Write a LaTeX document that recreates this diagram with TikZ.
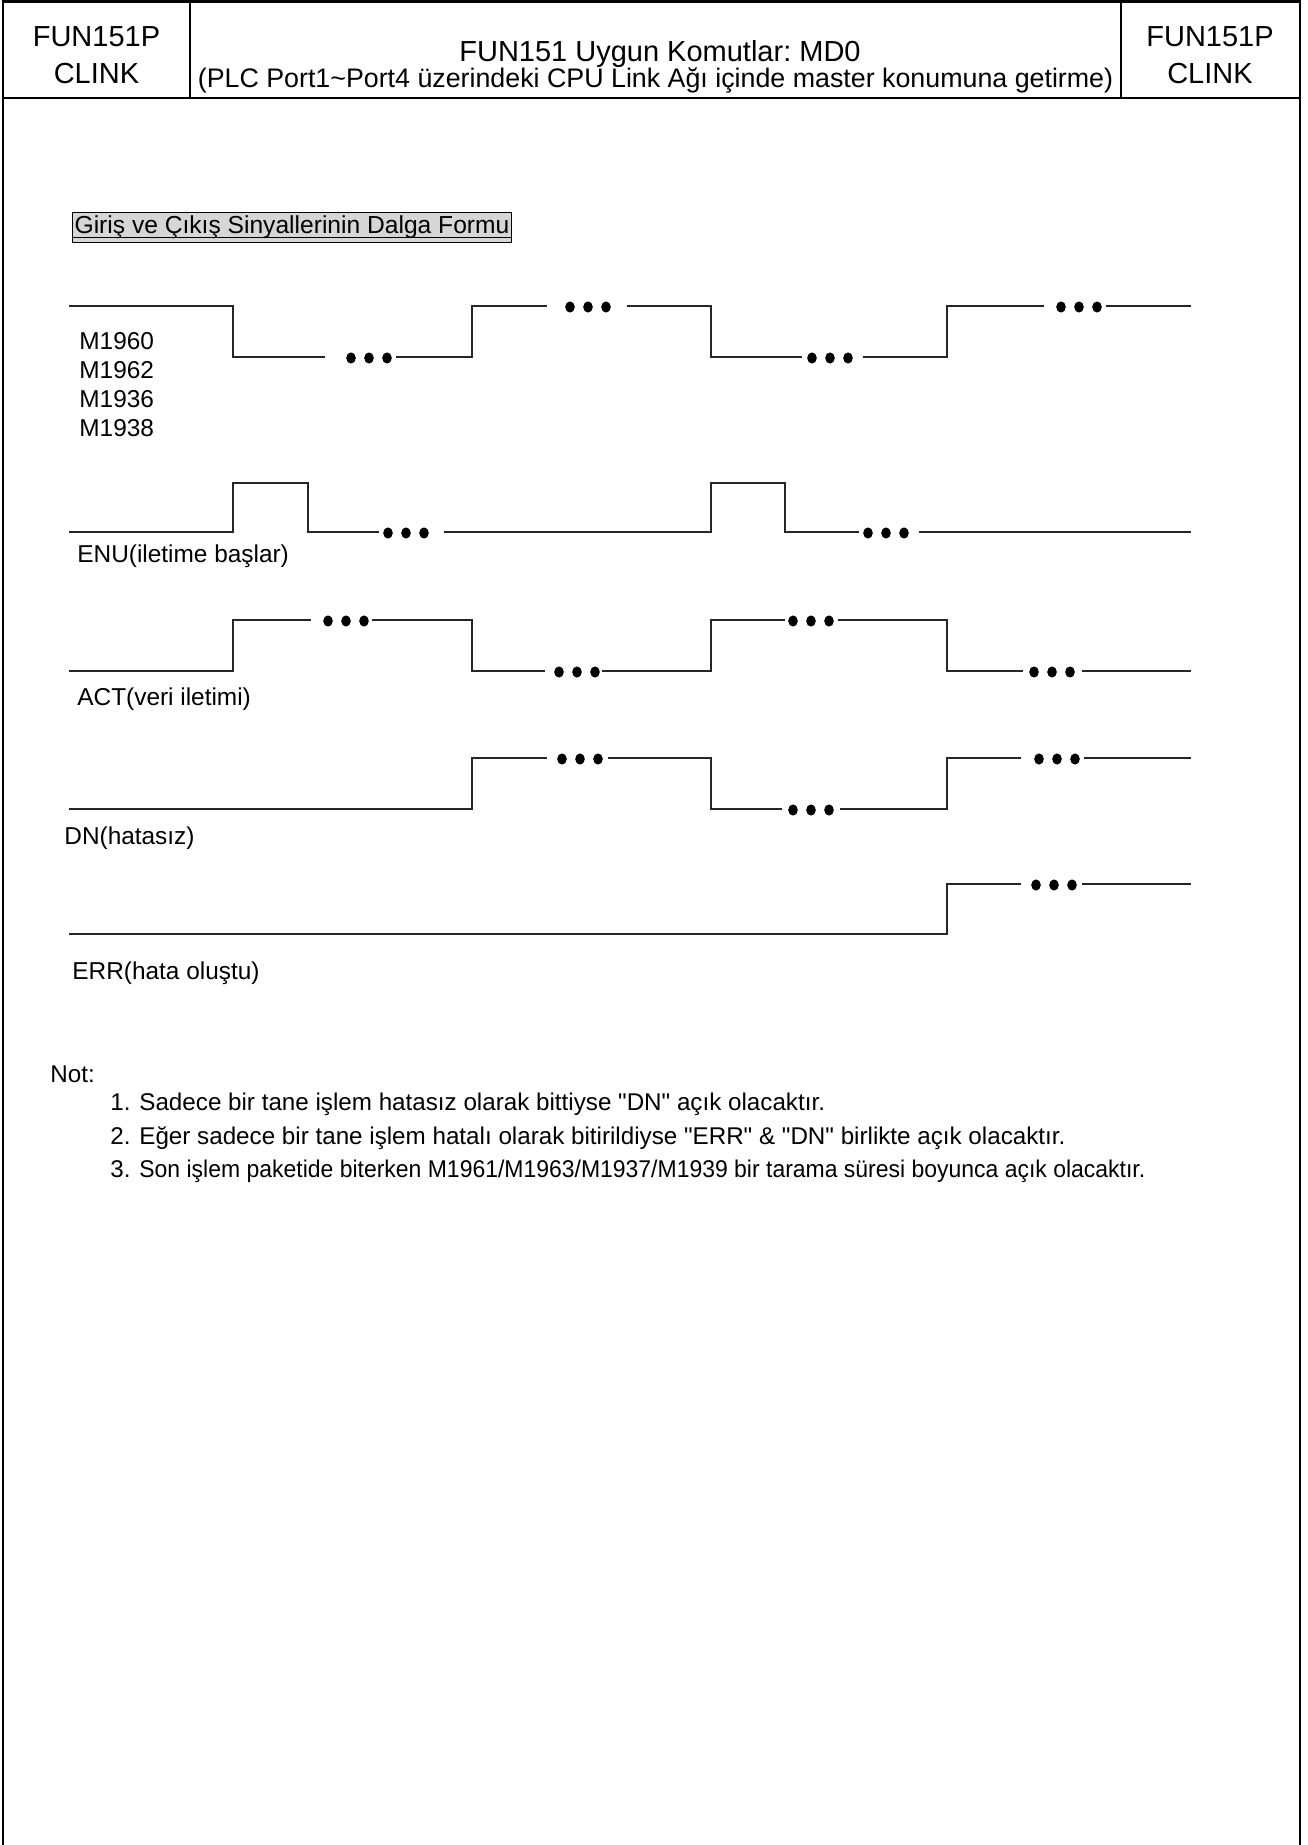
\documentclass[tikz,border=0pt]{standalone}
\usepackage{fontspec}
\setmainfont{Liberation Sans}
\usetikzlibrary{positioning}
\frenchspacing

\definecolor{boxgray}{gray}{0.84}

% three dots that mark a break in a waveform
\newcommand{\wavedots}[2]{%
  \foreach \d in {0,1,2}
    \fill (#1-18+18*\d,#2+1) ellipse [x radius=2.4pt, y radius=2.8pt];
}

\begin{document}
\begin{tikzpicture}[
  x=0.5pt, y=-0.5pt,
  frame/.style={line width=1.4pt},
  wave/.style={line width=0.7pt, black!85},
  head/.style={align=center, inner sep=0pt},
  lbl/.style={font=\fontsize{12.2}{14.5}\selectfont, inner sep=0pt, anchor=west, align=left},
  note/.style={font=\fontsize{12.1}{13.5}\selectfont, inner sep=0pt, anchor=base west}
]
  \useasboundingbox (0,0) rectangle (1307,1845);

  % page frame and header
  \draw[frame] (3,1845) -- (3,1.5) -- (1300,1.5) -- (1300,1845);
  \draw[frame] (3,98) -- (1300,98);
  \draw[frame] (190,1.5) -- (190,98);
  \draw[frame] (1121,1.5) -- (1121,98);

  \node[head, font=\fontsize{14.5}{18.8}\selectfont] (codeL) at (96.5,55) {FUN151P\\CLINK};
  \node[head, font=\fontsize{14.5}{18.8}\selectfont] (codeR) at (1210,55) {FUN151P\\CLINK};
  \node[head, font=\fontsize{14.5}{16}\selectfont] (titleA) at (660,54) {FUN151 Uygun Komutlar: MD0};
  \node[head, font=\fontsize{13.4}{15}\selectfont] (titleB) at (655.5,80)
    {(PLC Port1\textasciitilde Port4 üzerindeki CPU Link Ağı içinde master konumuna getirme)};

  % section title
  \node[draw, fill=boxgray, line width=0.6pt, inner xsep=1pt, inner ysep=0pt,
        minimum height=14.7pt, font=\fontsize{12.3}{14}\selectfont]
    (wtitle) at (292,227.5) {Giriş ve Çıkış Sinyallerinin Dalga Formu};
  \draw[line width=0.6pt] ([yshift=-2pt]wtitle.base west) -- ([yshift=-2pt]wtitle.base east);

  % signal names
  \node[lbl] (mlbl) at (79,384.5) {M1960\\M1962\\M1936\\M1938};
  \node[lbl] (enu) at (77,556) {ENU(iletime başlar)};
  \node[lbl] (act) at (77,699) {ACT(veri iletimi)};
  \node[lbl] (dn)  at (64,838) {DN(hatasız)};
  \node[lbl] (err) at (72,973) {ERR(hata oluştu)};

  % M1960/M1962/M1936/M1938
  \draw[wave] (69,306) -- (233,306) -- (233,357) -- (325,357)
              (396,357) -- (472,357) -- (472,306) -- (547,306)
              (627,306) -- (711,306) -- (711,357) -- (802,357)
              (863,357) -- (947,357) -- (947,306) -- (1044,306)
              (1106,306) -- (1191,306);
  \wavedots{369}{357} \wavedots{588}{306} \wavedots{830}{357} \wavedots{1079}{306}

  % ENU
  \draw[wave] (69,532) -- (233,532) -- (233,483) -- (308,483) -- (308,532) -- (379,532)
              (444,532) -- (711,532) -- (711,483) -- (785,483) -- (785,532) -- (859,532)
              (919,532) -- (1191,532);
  \wavedots{406}{532} \wavedots{886}{532}

  % ACT
  \draw[wave] (69,671) -- (233,671) -- (233,620) -- (311,620)
              (372,620) -- (472,620) -- (472,671) -- (545,671)
              (602,671) -- (711,671) -- (711,620) -- (785,620)
              (838,620) -- (947,620) -- (947,671) -- (1023,671)
              (1082,671) -- (1191,671);
  \wavedots{346}{620} \wavedots{577}{671} \wavedots{811}{620} \wavedots{1052}{671}

  % DN
  \draw[wave] (69,809) -- (472,809) -- (472,758) -- (547,758)
              (608,758) -- (711,758) -- (711,809) -- (782,809)
              (840,809) -- (947,809) -- (947,758) -- (1021,758)
              (1084,758) -- (1191,758);
  \wavedots{580}{758} \wavedots{811}{809} \wavedots{1057}{758}

  % ERR
  \draw[wave] (69,934) -- (947,934) -- (947,884) -- (1021,884)
              (1082,884) -- (1191,884);
  \wavedots{1054}{884}

  % notes
  \node[note] (nothead) at (50,1082) {Not:};
  \node[note] (num1) at (110,1110.5) {1.};
  \node[note] (txt1) at (139,1110.5) {Sadece bir tane işlem hatasız olarak bittiyse \textquotedbl DN\textquotedbl{} açık olacaktır.};
  \node[note] (num2) at (110,1144) {2.};
  \node[note] (txt2) at (139,1144) {Eğer sadece bir tane işlem hatalı olarak bitirildiyse \textquotedbl ERR\textquotedbl{} \& \textquotedbl DN\textquotedbl{} birlikte açık olacaktır.};
  \node[note] (num3) at (110,1177.5) {3.};
  \node[note] (txt3) at (139,1177.5) {\scalebox{0.949}[1]{Son işlem paketide biterken M1961/M1963/M1937/M1939 bir tarama süresi boyunca açık olacaktır.}};
\end{tikzpicture}
\end{document}
